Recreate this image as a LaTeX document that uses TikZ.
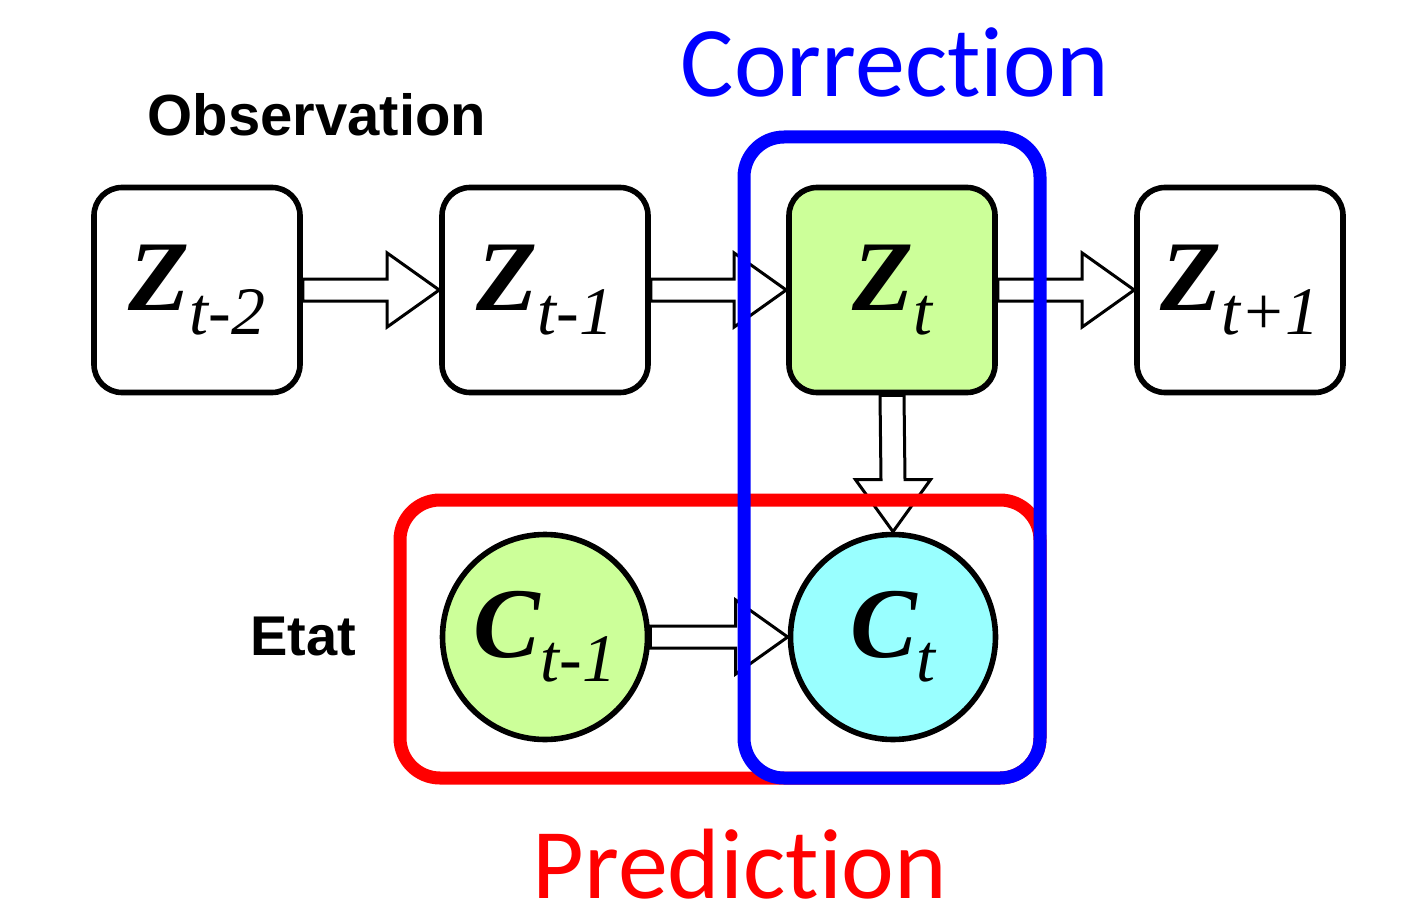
\documentclass[tikz,border=0pt]{standalone}
\usepackage{fontspec}
\setmainfont{Liberation Serif}
\newfontfamily\labelfont{Liberation Sans}
\newfontfamily\stagefont[Ligatures=NoCommon]{Carlito}
\usepackage{tikz}
\usetikzlibrary{calc}

\definecolor{obsgreen}{RGB}{204,255,153}
\definecolor{statecyan}{RGB}{153,255,255}

\newcommand{\nodetext}[2]{{\fontsize{50pt}{50pt}\selectfont\bfseries\itshape #1}{\fontsize{34pt}{34pt}\selectfont\itshape\raisebox{-12pt}{#2}}}

\tikzset{
  obsbox/.style={draw=black, line width=2.8pt, rounded corners=14pt,
    minimum width=103pt, minimum height=102.5pt, inner sep=0pt},
  statenode/.style={draw=black, line width=2.8pt, circle,
    minimum size=102.5pt, inner sep=0pt},
  harrow/.style={draw=black, fill=white, line width=1.5pt, to path={
    ([yshift=5.5pt]\tikztostart) -- ([xshift=-26pt,yshift=5.5pt]\tikztotarget)
    -- ([xshift=-26pt,yshift=18.5pt]\tikztotarget) -- (\tikztotarget)
    -- ([xshift=-26pt,yshift=-18.5pt]\tikztotarget) -- ([xshift=-26pt,yshift=-5.5pt]\tikztotarget)
    -- ([yshift=-5.5pt]\tikztostart) -- cycle}},
  varrow/.style={draw=black, fill=white, line width=1.5pt, to path={
    ([xshift=-6pt]\tikztostart) -- ([xshift=-6pt,yshift=26pt]\tikztotarget)
    -- ([xshift=-18.75pt,yshift=26pt]\tikztotarget) -- (\tikztotarget)
    -- ([xshift=18.75pt,yshift=26pt]\tikztotarget) -- ([xshift=6pt,yshift=26pt]\tikztotarget)
    -- ([xshift=6pt]\tikztostart) -- cycle}},
  boxline/.style={line width=6.5pt, rounded corners=20pt},
  heading/.style={anchor=base, inner sep=0pt}
}

\begin{document}
\begin{tikzpicture}[x=0.5pt, y=-0.5pt]
   \useasboundingbox (0,0) rectangle (1413,915);

   % observations
   \node[obsbox] (zA) at (197,290) {\nodetext{Z}{t-2}};
   \node[obsbox] (zB) at (545,290) {\nodetext{Z}{t-1}};
   \node[obsbox, fill=obsgreen] (zC) at (892,290) {\nodetext{Z}{t}};
   \node[obsbox] (zD) at (1240,290) {\nodetext{Z}{t+1}};

   % states
   \node[statenode, fill=obsgreen] (cB) at (545,637) {\nodetext{C}{t-1}};
   \node[statenode, fill=statecyan] (cC) at (893,637) {\nodetext{C}{t}};

   \draw[harrow] (zA.east) to (zB.west);
   \draw[harrow] (zB.east) to (zC.west);
   \draw[harrow] (zC.east) to (zD.west);
   \draw[harrow] (cB.east) to (cC.west);
   \draw[varrow] (zC.south) to (cC.north);

   % prediction and correction
   \draw[boxline, red] (400,500) rectangle (1040,778);
   \draw[boxline, blue] (744,137) rectangle (1040,778);

   \node[heading, font={\labelfont\bfseries\fontsize{29pt}{29pt}\selectfont}] (obs) at (317,135) {Observation};
   \node[heading, font={\labelfont\bfseries\fontsize{28pt}{28pt}\selectfont}] (etat) at (303,655) {Etat};
   \node[heading, text=blue, font={\stagefont\fontsize{50pt}{50pt}\selectfont}] (corr) at (895,97) {Correction};
   \node[heading, text=red, font={\stagefont\fontsize{50pt}{50pt}\selectfont}] (pred) at (740,898) {Prediction};
\end{tikzpicture}
\end{document}
